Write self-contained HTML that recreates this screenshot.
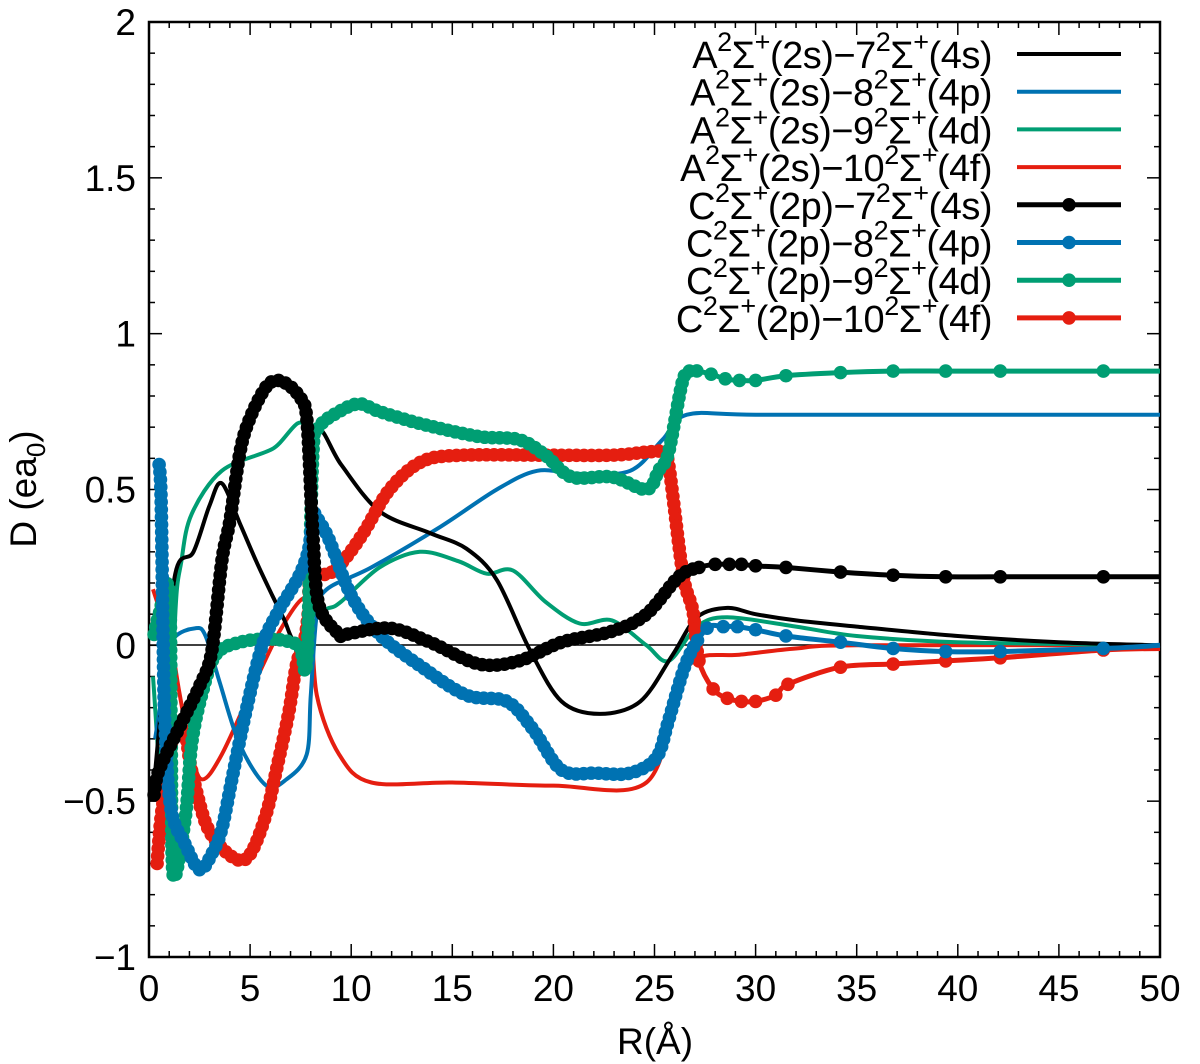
<!DOCTYPE html>
<html><head><meta charset="utf-8"><style>
html,body{margin:0;padding:0;background:#fff;}
svg{display:block;font-family:"Liberation Sans",sans-serif;}
</style></head><body>
<svg id="chart" width="1200" height="1064" viewBox="0 0 1200 1064">
<rect x="149" y="22" width="1011" height="935" fill="none" stroke="#000" stroke-width="2.5"/>
<g id="ticks"></g>
<line x1="149" x2="1160" y1="645" y2="645" stroke="#000" stroke-width="1.5"/>
<g id="series"></g>
<g id="legend"></g>
<text x="655" y="1054" font-size="37" text-anchor="middle">R(Å)</text>
<text transform="translate(36,489) rotate(-90)" font-size="37" text-anchor="middle">D (ea<tspan font-size="26" dy="9">0</tspan><tspan dy="-9">)</tspan></text>
</svg>
<script>
const xTicks=[0,5,10,15,20,25,30,35,40,45,50];
const yTicks=[-1,-0.5,0,0.5,1,1.5,2];
const yTickLabels=["−1","−0.5","0","0.5","1","1.5","2"];
const seriesNames=["A-7 4s","A-8 4p","A-9 4d","A-10 4f","C-7 4s","C-8 4p","C-9 4d","C-10 4f"];
const seriesColors=["#000000","#0072b2","#009e73","#e51e10","#000000","#0072b2","#009e73","#e51e10"];
const sA7=[[0.2,-0.48],[0.6,-0.2],[1.3,0.23],[2.2,0.3],[3,0.45],[3.6,0.52],[4.5,0.39],[5.3,0.27],[6.1,0.16],[6.7,0.08],[7.1,0.02],[7.6,0.02],[8.0,0.5],[8.4,0.69],[9.5,0.58],[11.4,0.43],[13.9,0.36],[15.7,0.31],[17.2,0.21],[18.8,-0.01],[20.4,-0.18],[22.3,-0.22],[24.3,-0.18],[25.9,-0.03],[27.1,0.09],[28.6,0.12],[30,0.1],[32,0.08],[35,0.06],[40,0.03],[45,0.01],[50,0.0]];
const sA8=[[0.3,-0.3],[0.8,-0.1],[1.2,0.02],[2.3,0.055],[2.8,0.03],[3.5,-0.12],[4.5,-0.32],[5.8,-0.45],[6.8,-0.43],[7.8,-0.35],[8.0,-0.16],[8.3,0.1],[8.8,0.18],[11,0.25],[14.4,0.38],[17.2,0.5],[19.2,0.56],[21.3,0.55],[23.8,0.56],[25.4,0.66],[26.6,0.74],[30,0.74],[40,0.74],[50,0.74]];
const sA9=[[0.2,-0.1],[0.7,-0.55],[1.0,-0.5],[1.3,0.1],[1.6,0.27],[2.1,0.42],[3.6,0.56],[6.1,0.63],[7.7,0.7],[7.9,0.3],[8.2,0.12],[8.9,0.12],[9.5,0.14],[11.4,0.25],[13.4,0.3],[15.3,0.27],[16.7,0.23],[18,0.24],[19.6,0.14],[21.3,0.07],[22.9,0.08],[24.6,0.0],[25.7,-0.05],[27.1,0.06],[28.6,0.09],[32,0.06],[35,0.03],[40,0.01],[50,0.0]];
const sA10=[[0.2,0.18],[0.6,0.1],[1.1,0.0],[1.5,-0.15],[2,-0.32],[2.6,-0.43],[3.6,-0.35],[5.3,-0.11],[6.5,0.05],[7.6,0.15],[8,0.1],[8.3,-0.16],[9.4,-0.35],[11,-0.44],[15,-0.44],[20,-0.45],[24.6,-0.44],[26.2,-0.13],[27.2,-0.04],[29.2,-0.03],[32,-0.01],[35,0.0],[50,0.0]];
const sC7=[[0.25,-0.48],[0.5,-0.4],[1.6,-0.25],[2.5,-0.13],[3.1,-0.02],[3.6,0.27],[4,0.4],[4.5,0.62],[5,0.73],[5.8,0.83],[6.4,0.85],[7.0,0.83],[7.4,0.8],[7.8,0.73],[8.1,0.36],[8.4,0.13],[9.4,0.035],[9.7,0.035],[11.9,0.055],[13.9,0.01],[16.3,-0.06],[18.3,-0.05],[20.4,0.01],[22.9,0.045],[24.6,0.1],[26.2,0.22],[27.2,0.25],[28,0.26],[28.7,0.26],[29.3,0.26],[30,0.255],[31.5,0.25],[34.2,0.235],[36.8,0.225],[39.4,0.22],[42.1,0.22],[47.2,0.22],[50,0.22]];
const sC8=[[0.5,0.58],[0.6,0.47],[0.7,0.0],[0.8,-0.27],[1.1,-0.53],[1.8,-0.64],[2.5,-0.72],[3.1,-0.67],[3.6,-0.59],[4.1,-0.43],[4.8,-0.21],[5.6,0.0],[6.4,0.11],[7.4,0.22],[7.9,0.31],[8.1,0.42],[8.3,0.41],[8.9,0.34],[10,0.16],[11.4,0.035],[13.5,-0.07],[15.7,-0.16],[17.7,-0.18],[19,-0.27],[20.4,-0.4],[22.1,-0.41],[23.8,-0.41],[25.1,-0.36],[25.7,-0.24],[26.6,-0.05],[27.6,0.055],[28.4,0.06],[29.1,0.06],[30,0.05],[31.5,0.03],[34.2,0.01],[36.8,-0.01],[39.4,-0.02],[42.1,-0.02],[47.2,-0.01],[50,0.0]];
const sC9=[[0.25,0.035],[0.5,0.1],[1.0,0.18],[1.1,-0.3],[1.2,-0.74],[1.8,-0.55],[2.1,-0.32],[2.6,-0.16],[3.3,-0.03],[4.5,0.01],[6.1,0.02],[7.4,0.0],[7.8,-0.05],[8.1,0.61],[8.4,0.7],[9.4,0.75],[10.4,0.775],[11.4,0.75],[13.5,0.71],[16.3,0.67],[18.3,0.66],[19.6,0.61],[20.9,0.54],[22.9,0.54],[24.6,0.5],[25.2,0.56],[25.7,0.62],[26.4,0.85],[26.9,0.88],[27.8,0.87],[28.5,0.855],[29.2,0.85],[30,0.85],[31.5,0.865],[34.2,0.875],[36.8,0.88],[39.4,0.88],[42.1,0.88],[47.2,0.88],[50,0.88]];
const sC10=[[0.4,-0.7],[0.6,-0.55],[1.0,-0.37],[1.3,-0.25],[1.8,-0.29],[2.1,-0.4],[2.8,-0.57],[3.6,-0.65],[4.5,-0.69],[5.1,-0.66],[5.8,-0.54],[6.3,-0.4],[6.9,-0.22],[7.3,-0.06],[7.7,0.02],[7.9,0.12],[8.0,0.22],[8.9,0.23],[9.6,0.27],[10.6,0.36],[11.9,0.5],[13.5,0.59],[15.5,0.61],[19.6,0.61],[22.9,0.61],[24.6,0.62],[25.4,0.62],[25.7,0.58],[26.4,0.23],[26.9,0.11],[27.2,-0.05],[27.9,-0.14],[28.6,-0.17],[29.3,-0.18],[30,-0.18],[31,-0.16],[31.6,-0.125],[34.2,-0.07],[36.8,-0.06],[39.4,-0.05],[42.1,-0.04],[47.2,-0.015],[50,-0.01]];
const allSeries=[sA7,sA8,sA9,sA10,sC7,sC8,sC9,sC10];
const legendLabels=[["A","2s","7","4s"],["A","2s","8","4p"],["A","2s","9","4d"],["A","2s","10","4f"],["C","2p","7","4s"],["C","2p","8","4p"],["C","2p","9","4d"],["C","2p","10","4f"]];

const X0=149,X1=1160,Y0=957,Y1=22,XMIN=0,XMAX=50,YMIN=-1,YMAX=2;
function xs(v){return X0+(v-XMIN)/(XMAX-XMIN)*(X1-X0);}
function ys(v){return Y0-(v-YMIN)/(YMAX-YMIN)*(Y0-Y1);}
const NS="http://www.w3.org/2000/svg";
function mk(tag,attrs,parent){const e=document.createElementNS(NS,tag);for(const k in attrs)e.setAttribute(k,attrs[k]);parent.appendChild(e);return e;}

const tg=document.getElementById('ticks');
for(let r=XMIN;r<=XMAX;r++){
  const major=r%5===0;const L=major?13:6;const x=xs(r);
  const t1=mk('line',{x1:x,x2:x,y1:Y0,y2:Y0-L,stroke:'#000','stroke-width':1.5},tg);
  
  
  const t2=mk('line',{x1:x,x2:x,y1:Y1,y2:Y1+L,stroke:'#000','stroke-width':1.5},tg);
  
  
}
xTicks.forEach(v=>{
  const t=mk('text',{x:xs(v),y:1001,'font-size':37,'text-anchor':'middle'},tg);
  t.textContent=String(v);
  
  
});
for(let i=0;i<=30;i++){
  const v=YMIN+i*0.1;const major=i%5===0;const L=major?13:6;const y=ys(v);
  const t1=mk('line',{x1:X0,x2:X0+L,y1:y,y2:y,stroke:'#000','stroke-width':1.5},tg);
  
  
  const t2=mk('line',{x1:X1,x2:X1-L,y1:y,y2:y,stroke:'#000','stroke-width':1.5},tg);
  
  
}
yTicks.forEach((v,i)=>{
  const t=mk('text',{x:136,y:ys(v)+13,'font-size':37,'text-anchor':'end'},tg);
  t.textContent=yTickLabels[i];
  
  
});

function smoothPath(pts){
  let d='M'+pts[0][0].toFixed(1)+','+pts[0][1].toFixed(1);
  for(let i=0;i<pts.length-1;i++){
    const p0=pts[Math.max(0,i-1)],p1=pts[i],p2=pts[i+1],p3=pts[Math.min(pts.length-1,i+2)];
    const t=0.16;
    const c1=[p1[0]+(p2[0]-p0[0])*t,p1[1]+(p2[1]-p0[1])*t];
    const c2=[p2[0]-(p3[0]-p1[0])*t,p2[1]-(p3[1]-p1[1])*t];
    d+=' C'+c1[0].toFixed(1)+','+c1[1].toFixed(1)+' '+c2[0].toFixed(1)+','+c2[1].toFixed(1)+' '+p2[0].toFixed(1)+','+p2[1].toFixed(1);
  }
  return d;
}
const sg=document.getElementById('series');
const order=[3,2,1,0,7,6,5,4];
order.forEach(si=>{
  const data=allSeries[si];const dotted=si>=4;
  const g=mk('g',{},sg);
  
  
  const pts=data.map(p=>[xs(p[0]),ys(p[1])]);
  const path=mk('path',{d:smoothPath(pts),fill:'none',stroke:seriesColors[si],'stroke-width':dotted?5:4,'stroke-linejoin':'round'},g);
  
  
  if(dotted){
    const len=path.getTotalLength();
    const cutX=xs(27.2);
    for(let s=0;s<=len;s+=7.5){
      const p=path.getPointAtLength(s);
      if(p.x>cutX)break;
      const c=mk('circle',{cx:p.x,cy:p.y,r:6.8,fill:seriesColors[si]},g);
      
      
    }
    data.forEach(p=>{
      if(p[0]>=27.2&&p[0]<50){
        const c=mk('circle',{cx:xs(p[0]),cy:ys(p[1]),r:6.8,fill:seriesColors[si]},g);
        
        
      }
    });
  }
});

const lg=document.getElementById('legend');
legendLabels.forEach((lb,i)=>{
  const y=54+i*37.7;
  const g=mk('g',{},lg);
  
  
  const t=mk('text',{x:992,y:y+14,'font-size':38,'text-anchor':'end','letter-spacing':'-0.5'},g);
  t.innerHTML=lb[0]+'<tspan font-size="27" dy="-17">2</tspan><tspan dy="17">Σ</tspan><tspan font-size="27" dy="-17">+</tspan><tspan dy="17">('+lb[1]+')−'+lb[2]+'</tspan><tspan font-size="27" dy="-17">2</tspan><tspan dy="17">Σ</tspan><tspan font-size="27" dy="-17">+</tspan><tspan dy="17">('+lb[3]+')</tspan>';
  
  
  const l=mk('line',{x1:1017,x2:1121,y1:y,y2:y,stroke:seriesColors[i],'stroke-width':i>=4?5:4},g);
  
  
  if(i>=4){
    const c=mk('circle',{cx:1069,cy:y,r:6.8,fill:seriesColors[i]},g);
    
    
  }
});
</script>
</body></html>
